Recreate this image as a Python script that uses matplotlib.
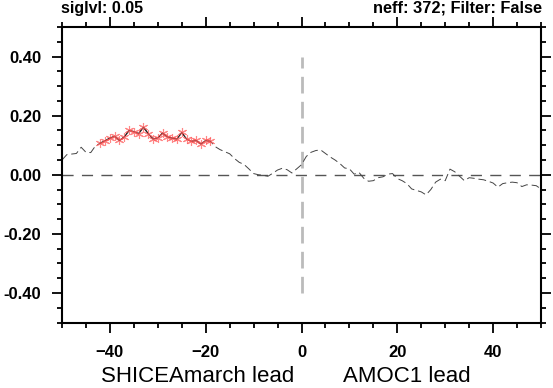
import numpy as np
import matplotlib
matplotlib.use("Agg")
import matplotlib.pyplot as plt

plt.rcParams["font.family"] = ["Liberation Sans", "DejaVu Sans"]

# lag correlation, lags -50 .. 50
lags = np.arange(-50, 51)
corr = [
    0.050, 0.068, 0.070, 0.072, 0.093, 0.076, 0.075, 0.098, 0.107, 0.115,  # -50..-41
    0.124, 0.130, 0.116, 0.128, 0.150, 0.146, 0.139, 0.161, 0.139, 0.121,  # -40..-31
    0.125, 0.141, 0.128, 0.124, 0.121, 0.143, 0.121, 0.113, 0.116, 0.104,  # -30..-21
    0.116, 0.113, 0.095, 0.085, 0.078, 0.071, 0.055, 0.042, 0.035, 0.020,  # -20..-11
    0.004, 0.000, -0.002, -0.005, 0.005, 0.016, 0.022, 0.017, 0.006, 0.020,  # -10..-1
    0.034,  # 0
    0.062, 0.076, 0.082, 0.084, 0.072, 0.060, 0.050, 0.038, 0.023, 0.020,  # 1..10
    0.002, 0.008, -0.012, -0.022, -0.020, -0.010, -0.007, 0.002, 0.004, -0.013,  # 11..20
    -0.020, -0.030, -0.048, -0.053, -0.058, -0.068, -0.050, -0.025, -0.015, -0.020,  # 21..30
    0.019, 0.010, -0.005, -0.020, -0.010, -0.012, -0.015, -0.017, -0.022, -0.028,  # 31..40
    -0.042, -0.030, -0.027, -0.025, -0.027, -0.040, -0.034, -0.035, -0.037, -0.048,  # 41..50
]
corr = np.array(corr)
sig_start, sig_end = -42, -19

fig = plt.figure(figsize=(5.53, 3.88), dpi=100)
ax = fig.add_axes([62 / 553, 1 - 322.5 / 388, 479 / 553, 295.5 / 388])

# reference lines
ax.axhline(0, color="#555555", lw=1.0, ls=(0, (8, 6)), zorder=1)
ax.plot([0, 0], [-0.4, 0.4], color="#bbbbbb", lw=2.0, ls=(0, (6, 3)), zorder=1)

# correlation line
ax.plot(lags, corr, color="#444444", lw=0.7, ls=(0, (8, 4)), zorder=2)

# significant part
sig = (lags >= sig_start) & (lags <= sig_end)
ax.plot(lags[sig], corr[sig], color="#222222", lw=0.9, zorder=3)
ax.plot(lags[sig], corr[sig], ls="none", marker=(6, 2, 0), ms=6.5, mew=0.8,
        color="#ff5555", alpha=0.7, zorder=4)

ax.set_xlim(-50, 50)
ax.set_ylim(-0.5, 0.5)
ax.set_xticks([-40, -20, 0, 20, 40])
ax.set_xticks(np.arange(-50, 51, 5), minor=True)
ax.set_yticks([-0.4, -0.2, 0, 0.2, 0.4])
ax.set_yticklabels(["-0.40", "-0.20", "0.00", "0.20", "0.40"])
ax.set_yticks(np.arange(-0.5, 0.51, 0.05), minor=True)

ax.tick_params(which="both", direction="out", top=True, right=True,
               width=1.3, labelsize=12)
ax.tick_params(which="major", length=7)
ax.tick_params(which="minor", length=3.5)
ax.tick_params(axis="x", pad=9)
ax.tick_params(axis="y", pad=8)
for lab in ax.get_xticklabels() + ax.get_yticklabels():
    lab.set_fontweight("bold")
for sp in ax.spines.values():
    sp.set_linewidth(1.5)

fig.text(61 / 553, 1 - 8 / 388, "siglvl: 0.05", fontsize=11.5, fontweight="bold",
         ha="left", va="center")
fig.text(542 / 553, 1 - 8 / 388, "neff: 372; Filter: False", fontsize=11.8,
         fontweight="bold", ha="right", va="center")

fig.text(197.5 / 553, 1 - 377 / 388, "SHICEAmarch lead", fontsize=16,
         ha="center", va="center")
fig.text(407 / 553, 1 - 377 / 388, "AMOC1 lead", fontsize=16,
         ha="center", va="center")

fig.savefig("out.png", dpi=100)
